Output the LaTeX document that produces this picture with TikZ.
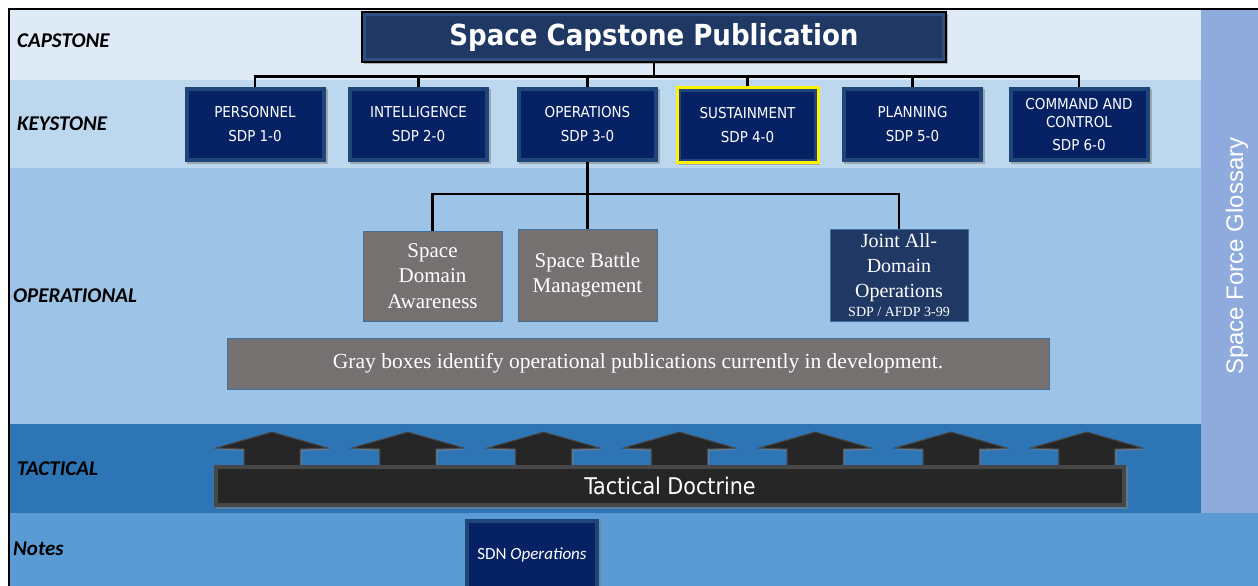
\documentclass[tikz,border=0pt]{standalone}
\usepackage{fontspec}
\setmainfont{Liberation Serif}
\newfontfamily\tahoma{DejaVu Sans Condensed}
\newfontfamily\calibri{Carlito}
\newfontfamily\arial{Liberation Sans}
\usetikzlibrary{calc,shadows}
\definecolor{capband}{HTML}{DEEBF7}
\definecolor{keyband}{HTML}{BDD7EE}
\definecolor{opband}{HTML}{9DC3E6}
\definecolor{tacband}{HTML}{2E75B6}
\definecolor{noteband}{HTML}{5B9BD5}
\definecolor{glossband}{HTML}{8FAADC}
\definecolor{navy}{HTML}{062265}
\definecolor{navyedge}{HTML}{1E4679}
\definecolor{capnavy}{HTML}{1F3864}
\definecolor{capedge}{HTML}{2F4E82}
\definecolor{jadonavy}{HTML}{203864}
\definecolor{devgray}{HTML}{767171}
\definecolor{boxline}{HTML}{41719C}
\definecolor{tacblack}{HTML}{262626}
\definecolor{tacedge}{HTML}{474747}

\begin{document}
\begin{tikzpicture}[x=1pt,y=-1pt,
    every node/.style={inner sep=0pt,text=white},
    bevel/.style={path picture={\fill[#1]
        ([shift={(4pt,-4pt)}]path picture bounding box.north west) rectangle
        ([shift={(-4pt,4pt)}]path picture bounding box.south east);}},
    shade/.style={drop shadow={shadow xshift=2pt,shadow yshift=-2pt,opacity=.55}},
    level label/.style={anchor=west,text=black,font=\calibri\bfseries\itshape\fontsize{21}{25}\selectfont},
    cap node/.style={minimum width=584pt,minimum height=50pt,fill=capedge,bevel=capnavy,
        draw=black,line width=2.5pt,shade,font=\tahoma\bfseries\fontsize{29}{34}\selectfont},
    key node/.style={minimum width=141pt,minimum height=75pt,fill=navyedge,bevel=navy,
        shade,align=center,font=\tahoma\fontsize{15}{18}\selectfont},
    dev node/.style={fill=devgray,draw=boxline,line width=1pt,align=center,
        font=\fontsize{21}{25.5}\selectfont},
    bar node/.style={minimum width=912pt,minimum height=42pt,fill=tacedge,bevel=tacblack,
        shade,font=\tahoma\fontsize{23}{27}\selectfont},
    up arrow/.style={fill=tacblack,draw=tacedge,line width=1pt,shade},
    link/.style={draw=black,line width=2.5pt}]

  \useasboundingbox (0,0) rectangle (1258,586);
  \fill[white] (0,0) rectangle (1258,586);

  \fill[capband] (10,10) rectangle (1201,80);
  \fill[keyband] (10,80) rectangle (1201,168);
  \fill[opband] (10,168) rectangle (1201,424);
  \fill[tacband] (10,424) rectangle (1201,513);
  \fill[noteband] (10,513) rectangle (1258,586);
  \fill[glossband] (1201,10) rectangle (1258,513);
  \draw[line width=2pt] (9,586) -- (9,9) -- (1258,9);

  \node[level label] (lcap) at (17,41) {CAPSTONE};
  \node[level label] (lkey) at (17,124) {KEYSTONE};
  \node[level label] (lop) at (13,296) {OPERATIONAL};
  \node[level label] (ltac) at (17,469) {TACTICAL};
  \node[level label] (lnote) at (13,549) {Notes};

  \node[rotate=90,font=\arial\fontsize{24}{28}\selectfont] (gloss) at (1237,256) {Space Force Glossary};

  \node[cap node] (cap) at (654,37) {Space Capstone Publication};

  \node[key node] (k1) at (255,124.5) {PERSONNEL\\[6pt]SDP 1-0};
  \node[key node] (k2) at (418.5,124.5) {INTELLIGENCE\\[6pt]SDP 2-0};
  \node[key node] (k3) at (587.5,124.5) {OPERATIONS\\[6pt]SDP 3-0};
  \node[key node,draw=yellow,line width=3pt] (k4) at (747.5,125) {SUSTAINMENT\\[6pt]SDP 4-0};
  \node[key node] (k5) at (912.5,124.5) {PLANNING\\[6pt]SDP 5-0};
  \node[key node] (k6) at (1079,124.5) {COMMAND AND\\CONTROL\\[5pt]SDP 6-0};

  \node[dev node,minimum width=139pt,minimum height=90pt] (sda) at (432.5,276) {Space\\Domain\\Awareness};
  \node[dev node,minimum width=139pt,minimum height=92pt] (sbm) at (587.5,275) {Space Battle\\Management};
  \node[dev node,fill=jadonavy,minimum width=138pt,minimum height=92pt,font=\fontsize{20}{25}\selectfont]
    (jado) at (899,275) {Joint All-\\Domain\\Operations\\[-6pt]{\fontsize{14}{16}\selectfont SDP / AFDP 3-99}};
  \node[dev node,minimum width=822pt,minimum height=51pt,font=\fontsize{21.5}{26}\selectfont]
    (devnote) at (638,363.5) {Gray boxes identify operational publications currently in development.};

  \coordinate (kbus) at ($(cap.south)+(0,13)$);
  \draw[link] (cap.south) -- (kbus);
  \foreach \k in {1,...,6}
    \draw[link] (kbus) -| (k\k.north);
  \coordinate (obus) at ($(k3.south)+(0,32)$);
  \draw[link] (k3.south) -- (obus);
  \foreach \o in {sda,sbm,jado}
    \draw[link] (obus) -| (\o.north);

  \foreach \i in {0,...,6} {
    \pgfmathsetmacro\c{272+135.8*\i}
    \path[up arrow] (\c,432) -- (\c+56,448) -- (\c+28,449) -- (\c+28,467)
      -- (\c-28,467) -- (\c-28,449) -- (\c-56,448) -- cycle;
  }
  \node[bar node] (tact) at (670,485.5) {Tactical Doctrine};

  \node[key node,minimum width=134pt,minimum height=72pt,font=\calibri\fontsize{17}{20}\selectfont]
    (sdn) at (532,555) {SDN \textit{Operations}};
\end{tikzpicture}
\end{document}
